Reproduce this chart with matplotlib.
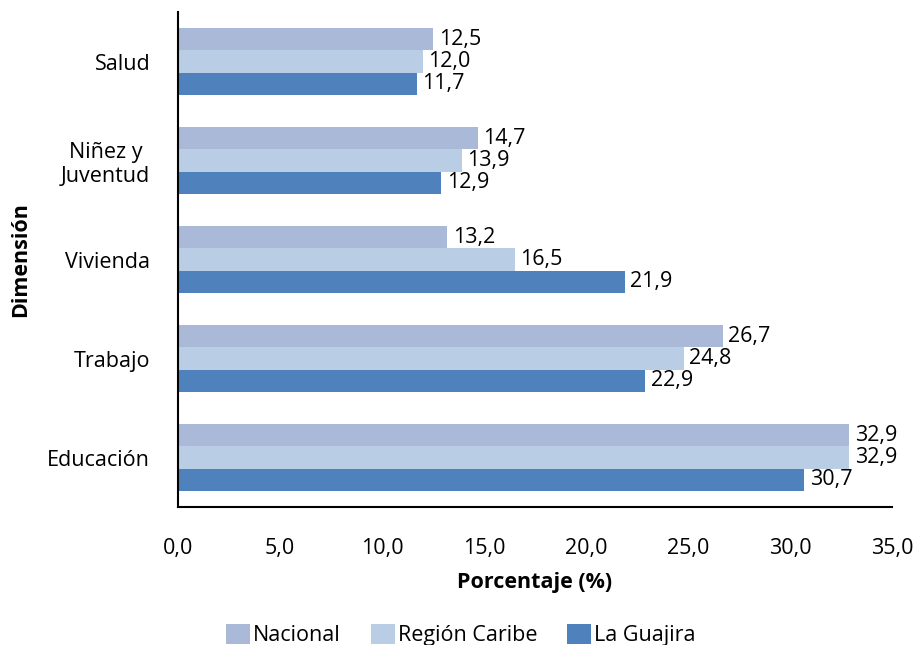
import matplotlib
matplotlib.use("Agg")
import matplotlib.pyplot as plt
import numpy as np

plt.rcParams['font.family'] = ['Open Sans', 'DejaVu Sans']

categories = ["Salud", "Niñez y\nJuventud", "Vivienda", "Trabajo", "Educación"]
series_names = ["Nacional", "Región Caribe", "La Guajira"]
nacional = [12.5, 14.7, 13.2, 26.7, 32.9]
region_caribe = [12.0, 13.9, 16.5, 24.8, 32.9]
la_guajira = [11.7, 12.9, 21.9, 22.9, 30.7]
xticks = [0, 5, 10, 15, 20, 25, 30, 35]

colors = ["#a9b9d7", "#b9cde5", "#4f81bd"]
FS = 15.5

fig = plt.figure(figsize=(9.22, 6.45), dpi=100)
ax = fig.add_axes([178/922, 1-507/645, (892-178)/922, (507-12)/645])

y = np.arange(len(categories))
h = 0.225
offsets = [-h, 0, h]
data = [nacional, region_caribe, la_guajira]
for vals, off, c, name in zip(data, offsets, colors, series_names):
    bars = ax.barh(y + off, vals, height=h, color=c, label=name, edgecolor='none')
    for b, v in zip(bars, vals):
        ax.annotate(f"{v:.1f}".replace(".", ","),
                    (b.get_width(), b.get_y() + b.get_height()/2),
                    xytext=(4, 0), textcoords="offset points",
                    va="center", ha="left", fontsize=FS, color="black")

ax.set_ylim(len(categories) - 0.5, -0.5)
ax.set_xlim(0, 35)
ax.set_yticks(y)
ax.set_yticklabels(categories, fontsize=FS, multialignment='center')
ax.set_xticks(xticks)
ax.set_xticklabels([f"{t:.1f}".replace(".", ",") for t in xticks], fontsize=FS)
ax.tick_params(axis='y', length=0, pad=20)
ax.tick_params(axis='x', length=0, pad=22)
for s in ['top', 'right']:
    ax.spines[s].set_visible(False)
ax.spines['left'].set_linewidth(1.5)
ax.spines['bottom'].set_linewidth(1.5)
ax.set_xlabel("Porcentaje (%)", fontsize=FS, fontweight='bold', labelpad=10)
ax.set_ylabel("Dimensión", fontsize=FS, fontweight='bold', labelpad=12)

leg = fig.legend(loc='lower center', bbox_to_anchor=(0.5, -0.032), ncol=3, frameon=False,
                 fontsize=FS, handlelength=1.1, handleheight=1.1, handletextpad=0.15,
                 columnspacing=1.4)

fig.savefig("out.png", dpi=100)
